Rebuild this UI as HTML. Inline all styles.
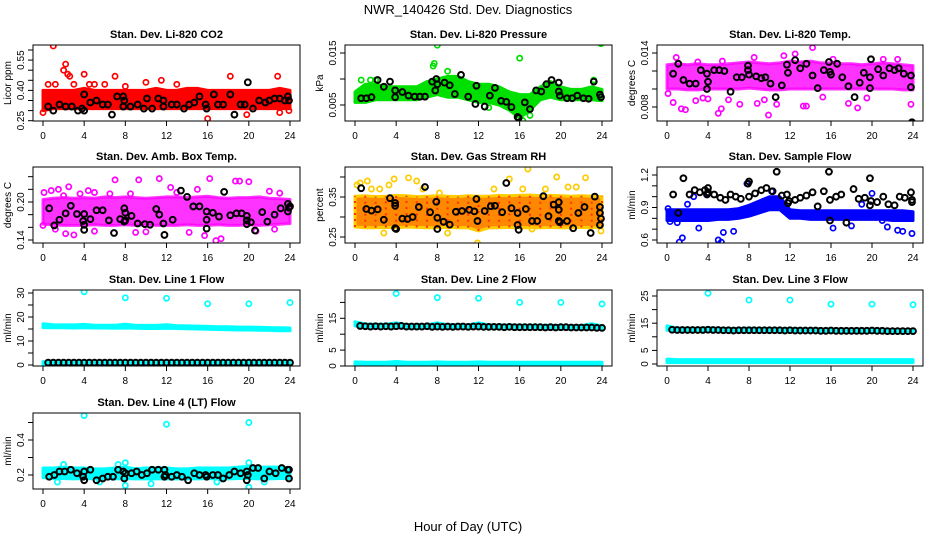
<!DOCTYPE html>
<html><head><meta charset="utf-8"><style>
html,body{margin:0;padding:0;background:#fff;}
svg{display:block;font-family:"Liberation Sans",Arial,sans-serif;}
</style></head><body>
<svg id="chart" width="936" height="540" viewBox="0 0 936 540">
<text x="468" y="14" text-anchor="middle" font-size="13">NWR_140426  Std. Dev. Diagnostics</text>
<text x="468" y="531" text-anchor="middle" font-size="13">Hour of Day (UTC)</text>
</svg>
<script>
// ---- data ----
const envHours=[0,1,2,3,4,5,6,7,8,9,10,11,12,13,14,15,16,17,18,19,20,21,22,23,24];
const lineHours=[0.5,1,1.5,2,2.5,3,3.5,4,4.5,5,5.5,6,6.5,7,7.5,8,8.5,9,9.5,10,10.5,11,11.5,12,12.5,13,13.5,14,14.5,15,15.5,16,16.5,17,17.5,18,18.5,19,19.5,20,20.5,21,21.5,22,22.5,23,23.5,24];

// P1 CO2
const co2Low=[0.30,0.31,0.31,0.31,0.31,0.31,0.31,0.31,0.31,0.31,0.31,0.31,0.31,0.31,0.31,0.31,0.31,0.31,0.31,0.31,0.31,0.31,0.31,0.31,0.31];
const co2High=[0.40,0.40,0.40,0.40,0.41,0.40,0.40,0.40,0.40,0.40,0.40,0.41,0.40,0.40,0.41,0.41,0.40,0.40,0.40,0.40,0.40,0.40,0.40,0.41,0.40];
const co2OutH=[0.0,0.5,1.0,1.2,2.0,2.2,2.4,2.6,3.0,4.0,4.5,5.0,6.0,7.0,8.0,10,11.5,13,16,18.2,19.8,22.8,23.9,23.0];
const co2OutV=[0.29,0.43,0.62,0.43,0.50,0.53,0.48,0.47,0.43,0.48,0.43,0.43,0.43,0.47,0.42,0.44,0.45,0.43,0.26,0.47,0.28,0.47,0.30,0.29];
const co2BlkH=[0.5,1.0,1.6,2.2,2.8,3.4,3.8,4.0,4.0,4.6,5.2,5.8,6.3,6.7,7.2,7.8,7.8,7.9,8.5,9.2,9.8,10.1,10.6,11.2,11.7,11.7,12.5,13.0,13.7,14.2,14.7,15.2,15.8,15.9,16.6,17.0,17.5,18.2,18.6,19.2,19.6,19.9,20.4,21.0,21.6,22.0,22.5,23.0,23.5,23.8,23.9];
const co2BlkV=[0.32,0.30,0.33,0.32,0.32,0.30,0.31,0.38,0.30,0.34,0.35,0.33,0.33,0.28,0.37,0.37,0.32,0.35,0.32,0.33,0.31,0.36,0.31,0.36,0.32,0.35,0.33,0.33,0.31,0.33,0.34,0.37,0.33,0.31,0.38,0.33,0.33,0.38,0.28,0.33,0.33,0.44,0.31,0.35,0.34,0.35,0.36,0.36,0.35,0.37,0.35];

// P2 Pressure
const prLow=[0.0055,0.0055,0.006,0.006,0.006,0.006,0.006,0.0065,0.007,0.0065,0.0065,0.006,0.0055,0.0055,0.005,0.004,0.0025,0.004,0.006,0.0065,0.006,0.006,0.006,0.006,0.0058];
const prHigh=[0.0075,0.009,0.009,0.0085,0.0085,0.0085,0.0085,0.0095,0.010,0.0105,0.0105,0.0095,0.009,0.009,0.0085,0.0075,0.007,0.007,0.0085,0.0095,0.0085,0.008,0.008,0.0085,0.008];
const prOutH=[7.6,7.7,8.0,9.0,16.0,23.9,0.6,1.5,13.0,16.3,17.0,2.0,23.2];
const prOutV=[0.0125,0.013,0.0165,0.0115,0.014,0.0168,0.0098,0.0098,0.0045,0.002,0.003,0.0098,0.0098];
const prBlkH=[0.6,1.1,1.6,2.2,2.8,3.4,3.9,3.9,4.6,5.2,5.8,6.3,6.8,7.5,7.8,7.9,8.0,8.7,9.2,9.7,10.3,11.0,11.7,11.8,12.6,13.1,13.6,14.2,14.7,15.2,15.8,15.9,16.5,17.0,17.6,18.1,18.6,19.1,19.8,19.8,19.9,20.6,21.1,21.6,22.2,22.7,23.2,23.8,23.9];
const prBlkV=[0.0063,0.0063,0.0065,0.0098,0.0085,0.0095,0.0065,0.0078,0.0075,0.0068,0.0066,0.0066,0.0066,0.0095,0.0078,0.010,0.009,0.0093,0.0088,0.0071,0.0108,0.0066,0.0052,0.0087,0.0047,0.0068,0.0083,0.0058,0.0056,0.0046,0.0027,0.0025,0.0055,0.0042,0.0078,0.0076,0.009,0.0098,0.0093,0.0076,0.0068,0.0063,0.0063,0.0068,0.0063,0.0062,0.0095,0.007,0.0065];

// P3 Li-820 Temp
const tLow=[0.0100,0.0100,0.0099,0.0099,0.0100,0.0100,0.0100,0.0100,0.0101,0.0100,0.0099,0.0099,0.0100,0.0100,0.0100,0.0100,0.0100,0.0100,0.0100,0.0100,0.0100,0.0100,0.0100,0.0099,0.0099];
const tHigh=[0.0127,0.0128,0.0127,0.0128,0.0127,0.0127,0.0128,0.0129,0.0130,0.0129,0.0128,0.0129,0.0131,0.0130,0.0131,0.0129,0.0129,0.0128,0.0128,0.0127,0.0128,0.0129,0.0128,0.0127,0.0126];
const tOutH=[0.1,0.6,0.9,1.4,1.8,2.8,3.0,5.0,5.3,5.4,7.1,8.5,8.8,9.9,10.7,11.4,12.5,13.3,13.6,14.2,15.2,16.2,17.7,18.6,21.1,22.5,23.8,6.0,4.0,3.5,9.5,19.5];
const tOutV=[0.0095,0.0085,0.0135,0.0078,0.0077,0.0087,0.013,0.0073,0.0078,0.0131,0.0083,0.0135,0.0084,0.0071,0.0083,0.0137,0.0139,0.0081,0.0081,0.0146,0.0091,0.0133,0.0084,0.0079,0.0133,0.0133,0.0083,0.0088,0.0089,0.0090,0.0088,0.0090];
const tBlkH=[0.6,1.1,1.6,2.2,2.8,3.3,3.9,3.9,4.0,4.6,5.1,5.6,6.2,6.8,7.3,7.9,7.9,8.0,8.7,9.2,9.6,10.1,10.6,11.2,11.7,11.8,12.5,13.0,13.6,14.2,14.7,15.3,15.8,15.9,16.0,16.6,17.1,17.7,18.3,18.8,19.2,19.8,19.8,19.9,20.6,21.1,21.7,22.2,22.6,23.1,23.8,23.8,23.9];
const tBlkV=[0.0117,0.0128,0.0110,0.0106,0.0106,0.0121,0.0117,0.0100,0.0108,0.0121,0.0121,0.0120,0.0097,0.0113,0.0113,0.0126,0.0121,0.0116,0.0114,0.0112,0.0113,0.0106,0.0091,0.0104,0.0127,0.0118,0.0132,0.0123,0.0128,0.0115,0.0101,0.0121,0.0130,0.0119,0.0116,0.0128,0.0113,0.0103,0.0091,0.0107,0.0118,0.0113,0.0101,0.0133,0.0122,0.0115,0.0123,0.0121,0.0123,0.0117,0.0102,0.0115,0.0063];

// P4 Amb Box Temp
const abLow=[0.165,0.164,0.163,0.163,0.163,0.164,0.163,0.163,0.164,0.163,0.164,0.163,0.163,0.163,0.164,0.163,0.163,0.164,0.163,0.163,0.164,0.163,0.164,0.165,0.166];
const abHigh=[0.204,0.206,0.207,0.206,0.207,0.206,0.208,0.207,0.208,0.207,0.206,0.207,0.208,0.208,0.207,0.208,0.209,0.207,0.206,0.207,0.207,0.208,0.206,0.205,0.204];
const abOutH=[0.0,0.1,0.8,1.2,2.0,2.5,2.2,3.0,3.6,5.0,5.0,6.5,7.0,8.5,9.3,10.0,11.3,12.4,13.0,15.0,15.7,16.2,16.8,17.3,18.7,19.1,20.0,20.7,22.0,22.5,23.0,14.2,9.0,1.5,4.4];
const abOutV=[0.163,0.215,0.218,0.157,0.21,0.224,0.15,0.148,0.213,0.215,0.154,0.213,0.235,0.213,0.235,0.153,0.237,0.223,0.215,0.22,0.147,0.237,0.139,0.142,0.233,0.233,0.232,0.154,0.217,0.157,0.214,0.152,0.152,0.22,0.218];
const abBlkH=[0.6,1.1,1.6,2.2,2.7,3.3,3.9,4.0,4.0,4.0,4.6,5.2,5.8,6.4,6.9,7.5,7.9,7.9,8.0,8.0,8.6,9.2,9.9,10.4,11.0,11.3,11.7,11.8,12.6,13.4,14.0,14.6,15.2,15.9,15.9,15.9,16.5,17.1,17.6,18.2,18.8,19.3,19.8,19.8,19.8,20.2,20.6,21.3,21.8,22.5,23.1,23.8,23.9,24.0,23.8];
const abBlkV=[0.190,0.163,0.172,0.182,0.194,0.181,0.170,0.181,0.164,0.156,0.173,0.187,0.187,0.171,0.151,0.173,0.169,0.190,0.183,0.171,0.178,0.166,0.165,0.164,0.189,0.180,0.166,0.148,0.172,0.218,0.208,0.193,0.193,0.185,0.172,0.158,0.183,0.177,0.216,0.179,0.182,0.182,0.178,0.171,0.165,0.168,0.155,0.184,0.169,0.180,0.190,0.197,0.191,0.193,0.185];

// P5 Gas stream RH
const rhLow=[0.275,0.273,0.273,0.274,0.273,0.275,0.274,0.273,0.273,0.274,0.273,0.273,0.265,0.273,0.273,0.274,0.273,0.273,0.273,0.274,0.273,0.273,0.274,0.273,0.275];
const rhHigh=[0.352,0.353,0.351,0.352,0.354,0.353,0.351,0.352,0.353,0.352,0.351,0.353,0.352,0.352,0.354,0.353,0.354,0.355,0.353,0.354,0.353,0.352,0.353,0.352,0.351];
const rhOutH=[0.2,0.5,1.2,1.6,2.4,2.8,3.3,3.8,5.2,6.0,6.6,8.2,11.9,15.0,16.3,16.8,17.2,19.6,20.7,21.5,22.4,23.9,9.0,13.5,18.5];
const rhOutV=[0.38,0.385,0.39,0.37,0.37,0.26,0.38,0.395,0.398,0.39,0.37,0.36,0.235,0.395,0.37,0.42,0.27,0.40,0.375,0.375,0.398,0.265,0.26,0.37,0.37];
const rhBlkH=[0.6,1.1,1.6,2.2,2.8,3.4,3.9,3.9,3.9,4.0,4.6,5.1,5.6,6.2,6.8,7.3,7.9,8.0,8.0,8.6,9.2,9.8,10.4,11.1,11.6,11.8,11.9,12.6,13.2,13.6,14.3,14.7,15.2,15.8,15.8,15.9,16.6,17.2,17.7,18.3,18.8,19.3,19.8,19.8,19.8,19.9,20.6,21.2,21.7,22.3,22.9,23.3,23.8,23.8,23.9,23.8];
const rhBlkV=[0.372,0.32,0.316,0.319,0.293,0.347,0.335,0.328,0.272,0.270,0.296,0.295,0.30,0.325,0.375,0.312,0.338,0.298,0.27,0.288,0.281,0.313,0.315,0.318,0.314,0.345,0.29,0.315,0.327,0.328,0.312,0.385,0.322,0.31,0.28,0.268,0.32,0.29,0.29,0.352,0.302,0.331,0.337,0.318,0.29,0.287,0.29,0.272,0.31,0.325,0.26,0.351,0.325,0.31,0.296,0.28];

// P6 Sample flow
const sfLow=[0.78,0.78,0.78,0.78,0.78,0.79,0.79,0.80,0.82,0.85,0.88,0.88,0.80,0.80,0.79,0.79,0.79,0.79,0.79,0.79,0.79,0.79,0.78,0.78,0.78];
const sfHigh=[0.88,0.88,0.88,0.88,0.88,0.88,0.88,0.89,0.92,0.96,1.00,1.00,0.88,0.87,0.87,0.87,0.87,0.87,0.87,0.87,0.87,0.87,0.87,0.87,0.86];
const sfOutH=[0.1,0.3,1.2,1.5,2.6,3.1,4.0,5.0,5.3,5.5,6.5,7.8,10.2,9.2,16.2,18.0,19.0,20.0,21.5,22.5,23.0,23.9,21.0,1.0,2.0];
const sfOutV=[0.89,0.77,0.58,0.62,1.0,0.71,1.03,0.60,0.58,0.67,0.68,1.12,1.05,0.93,0.71,0.73,0.93,1.03,0.72,0.69,0.68,0.66,0.78,0.76,0.93];
const sfBlkH=[0.6,1.1,1.6,2.2,2.7,3.2,3.7,3.9,4.0,4.0,4.6,5.2,5.7,6.2,6.7,7.2,7.9,8.0,8.0,8.6,9.2,9.7,10.3,10.7,11.2,11.7,11.8,11.9,12.5,13.0,13.6,14.2,14.7,15.3,15.8,15.9,15.9,16.5,17.0,17.5,18.2,18.7,19.3,19.8,19.8,19.9,20.5,21.1,21.6,22.2,22.7,23.2,23.8,23.9,23.9];
const sfBlkV=[1.02,0.85,1.17,1.02,1.06,1.04,1.06,1.02,1.08,1.04,1.02,0.99,0.97,1.02,1.00,0.98,1.12,1.14,1.00,1.03,1.06,1.08,1.05,1.23,1.01,1.02,0.94,0.96,0.97,0.99,1.01,1.04,0.91,1.05,1.23,0.97,0.78,1.00,1.02,0.76,1.07,0.98,0.99,1.17,0.92,0.96,0.95,1.00,0.93,0.92,1.00,0.99,1.04,0.97,0.95];

// P7 Line 1
const l1Low=[15.6,15.5,15.5,15.4,15.5,15.4,15.4,15.3,15.4,15.3,15.2,15.2,15.3,15.2,15.1,15.0,14.9,14.8,14.7,14.6,14.6,14.5,14.4,14.3,14.3];
const l1High=[17.2,16.8,16.7,16.7,16.9,16.6,16.6,16.6,17.0,16.5,16.5,16.5,16.8,16.4,16.3,16.2,16.1,15.9,15.9,15.8,15.8,15.7,15.6,15.5,15.4];
const l1zLow=[0.3,0.3,0.3,0.3,0.3,0.3,0.3,0.3,0.3,0.3,0.3,0.3,0.3,0.3,0.3,0.3,0.3,0.3,0.3,0.3,0.3,0.3,0.3,0.3,0.3];
const l1zHigh=[1.4,1.3,1.3,1.3,1.3,1.3,1.3,1.3,1.3,1.3,1.3,1.3,1.3,1.3,1.3,1.3,1.3,1.3,1.3,1.3,1.3,1.3,1.3,1.3,1.3];
const l1OutH=[4,8,12,16,20,24];
const l1OutV=[30.5,28,27.8,25.5,25.5,26];
const l1BlkV=[1,1,1,1,1,1,1,1,1,1,1,1,1,1,1,1,1,1,1,1,1,1,1,1,1,1,1,1,1,1,1,1,1,1,1,1,1,1,1,1,1,1,1,1,1,1,1,1];

// P8 Line 2
const l2Low=[12.6,12.2,12.1,12.1,12.1,12.0,12.0,12.0,12.0,12.0,12.0,12.0,12.0,11.9,11.9,11.9,11.8,11.8,11.8,11.8,11.7,11.7,11.7,11.6,11.6];
const l2High=[13.9,13.2,13.1,13.1,13.6,13.0,13.0,13.0,13.6,13.0,13.0,12.9,13.6,12.9,12.9,12.9,12.8,12.8,12.8,12.8,12.7,12.7,12.7,13.3,12.6];
const l2zLow=[0.2,0.2,0.2,0.2,0.2,0.2,0.2,0.2,0.2,0.2,0.2,0.2,0.2,0.2,0.2,0.2,0.2,0.2,0.2,0.2,0.2,0.2,0.2,0.2,0.2];
const l2zHigh=[1.3,1.2,1.2,1.2,1.4,1.2,1.2,1.2,1.3,1.2,1.2,1.2,1.3,1.2,1.2,1.2,1.2,1.2,1.2,1.2,1.2,1.2,1.2,1.2,1.2];
const l2OutH=[4,8,12,16,20,24];
const l2OutV=[22.8,21.5,21.3,20.0,20.0,19.5];
const l2BlkV=[12.6,12.5,12.4,12.5,12.4,12.5,12.4,12.5,12.6,12.4,12.4,12.4,12.4,12.5,12.3,12.4,12.3,12.4,12.3,12.4,12.4,12.3,12.4,12.4,12.3,12.3,12.3,12.3,12.2,12.3,12.2,12.2,12.2,12.2,12.2,12.2,12.1,12.2,12.1,12.2,12.2,12.1,12.1,12.1,12.1,12.1,12.0,12.0];

// P9 Line 3
const l3Low=[12.4,12.2,12.1,12.1,12.1,12.0,12.0,12.0,12.0,12.0,12.0,12.0,12.0,11.9,11.9,11.9,11.8,11.8,11.8,11.8,11.7,11.7,11.7,11.6,11.6];
const l3High=[14.0,13.2,13.1,13.1,13.4,13.0,13.0,13.0,13.2,13.0,13.0,12.9,13.1,12.9,12.9,12.9,12.8,12.8,12.8,12.8,12.7,12.7,12.7,12.7,12.6];
const l3zLow=[0.5,0.5,0.5,0.5,0.5,0.5,0.5,0.5,0.5,0.5,0.5,0.5,0.5,0.5,0.5,0.5,0.5,0.5,0.5,0.5,0.5,0.5,0.5,0.5,0.5];
const l3zHigh=[1.8,1.6,1.6,1.6,1.6,1.6,1.6,1.6,1.6,1.6,1.6,1.6,1.6,1.6,1.6,1.6,1.6,1.6,1.6,1.6,1.6,1.6,1.6,1.6,1.6];
const l3OutH=[4,8,12,16,20,24];
const l3OutV=[26.0,23.5,23.5,22.0,22.0,21.8];
const l3BlkV=[12.6,12.5,12.5,12.5,12.5,12.5,12.5,12.6,12.5,12.5,12.4,12.4,12.3,12.4,12.4,12.4,12.4,12.4,12.4,12.4,12.4,12.4,12.3,12.4,12.3,12.3,12.3,12.3,12.3,12.2,12.2,12.3,12.2,12.2,12.2,12.2,12.2,12.2,12.2,12.3,12.2,12.2,12.1,12.1,12.1,12.1,12.1,12.1];

// P10 Line 4
const l4Low=[0.185,0.180,0.180,0.178,0.180,0.178,0.180,0.178,0.180,0.178,0.178,0.178,0.178,0.178,0.178,0.178,0.180,0.178,0.178,0.180,0.180,0.178,0.178,0.180,0.180];
const l4High=[0.240,0.240,0.245,0.240,0.240,0.235,0.235,0.240,0.245,0.235,0.240,0.240,0.240,0.235,0.235,0.240,0.240,0.240,0.240,0.245,0.250,0.245,0.245,0.245,0.240];
const l4OutH=[4,12,20,8,20,8,10.5,21.5,5.5,20,2.0,7.3,1.4,16.9];
const l4OutV=[0.54,0.49,0.50,0.14,0.13,0.27,0.15,0.16,0.16,0.27,0.26,0.26,0.16,0.16];
const l4BlkH=[0.6,1.1,1.6,2.1,2.7,3.3,3.9,4.0,4.0,4.6,5.2,5.8,6.3,6.8,7.3,7.8,7.9,8.0,8.6,9.1,9.6,10.1,10.6,11.2,11.8,11.8,11.9,12.5,13.0,13.5,14.1,14.7,15.2,15.8,15.9,16.5,17.0,17.5,18.1,18.6,19.2,19.8,19.8,19.9,20.4,20.9,21.5,22.0,22.6,23.2,23.8,23.9,23.9];
const l4BlkV=[0.19,0.20,0.22,0.22,0.23,0.21,0.19,0.17,0.22,0.23,0.17,0.18,0.19,0.19,0.23,0.22,0.18,0.21,0.21,0.22,0.20,0.21,0.23,0.23,0.23,0.19,0.20,0.19,0.20,0.19,0.17,0.21,0.20,0.20,0.19,0.20,0.20,0.18,0.20,0.22,0.21,0.22,0.17,0.20,0.24,0.24,0.18,0.22,0.21,0.24,0.23,0.18,0.23];

// ---- layout ----
const NS='http://www.w3.org/2000/svg';
const svg=document.getElementById('chart');
function mk(tag,attrs,parent){const e=document.createElementNS(NS,tag);for(const k in attrs)e.setAttribute(k,attrs[k]);(parent||svg).appendChild(e);return e;}
const cols=[{x0:43,x24:290},{x0:355,x24:602},{x0:667,x24:913}];
const rows=[{top:45,bot:121},{top:167,bot:243},{top:290,bot:366},{top:413,bot:489}];

const panels=[
 {name:'co2',title:'Stan. Dev. Li-820 CO2',ylab:'Licor ppm',c:0,r:0,a:[0.25,120.7,0.40,90.4],ticks:[0.25,0.30,0.35,0.40,0.45,0.50,0.55,0.60],labs:[0.25,0.40,0.55],dec:2,col:'#ff0000',op:1,bands:[[co2Low,co2High]],oh:co2OutH,ov:co2OutV,bh:co2BlkH,bv:co2BlkV},
 {name:'pressure',title:'Stan. Dev. Li-820 Pressure',ylab:'kPa',c:1,r:0,a:[0.005,105,0.015,53],ticks:[0.005,0.010,0.015],labs:[0.005,0.015],dec:3,col:'#00e000',op:1,bands:[[prLow,prHigh]],oh:prOutH,ov:prOutV,bh:prBlkH,bv:prBlkV},
 {name:'li820-temp',title:'Stan. Dev. Li-820 Temp.',ylab:'degrees C',c:2,r:0,a:[0.008,107,0.014,53],ticks:[0.008,0.010,0.012,0.014],labs:[0.008,0.014],dec:3,col:'#ff00ff',op:0.8,bands:[[tLow,tHigh]],oh:tOutH,ov:tOutV,bh:tBlkH,bv:tBlkV},
 {name:'amb-box-temp',title:'Stan. Dev. Amb. Box Temp.',ylab:'degrees C',c:0,r:1,a:[0.14,240,0.20,202],ticks:[0.14,0.16,0.18,0.20,0.22,0.24],labs:[0.14,0.20],dec:2,col:'#ff00ff',op:0.8,bands:[[abLow,abHigh]],oh:abOutH,ov:abOutV,bh:abBlkH,bv:abBlkV},
 {name:'gas-stream-rh',title:'Stan. Dev. Gas Stream RH',ylab:'percent',c:1,r:1,a:[0.25,237,0.35,197],ticks:[0.25,0.30,0.35,0.40],labs:[0.25,0.35],dec:2,col:'#ffcc00',inner:'#ff8800',op:1,bands:[[rhLow,rhHigh]],oh:rhOutH,ov:rhOutV,bh:rhBlkH,bv:rhBlkV},
 {name:'sample-flow',title:'Stan. Dev. Sample Flow',ylab:'ml/min',c:2,r:1,a:[0.6,240,1.2,175],ticks:[0.6,0.7,0.8,0.9,1.0,1.1,1.2],labs:[0.6,0.9,1.2],dec:1,col:'#0000ff',op:1,bands:[[sfLow,sfHigh]],oh:sfOutH,ov:sfOutV,bh:sfBlkH,bv:sfBlkV},
 {name:'line1-flow',title:'Stan. Dev. Line 1 Flow',ylab:'ml/min',c:0,r:2,a:[0,365,30,293],ticks:[0,5,10,15,20,25,30],labs:[0,10,20,30],dec:0,col:'#00ffff',op:1,bands:[[l1Low,l1High],[l1zLow,l1zHigh]],oh:l1OutH,ov:l1OutV,bh:lineHours,bv:l1BlkV},
 {name:'line2-flow',title:'Stan. Dev. Line 2 Flow',ylab:'ml/min',c:1,r:2,a:[0,366,15,318.3],ticks:[0,5,10,15,20],labs:[0,5,15],dec:0,col:'#00ffff',op:1,bands:[[l2Low,l2High],[l2zLow,l2zHigh]],oh:l2OutH,ov:l2OutV,bh:lineHours,bv:l2BlkV},
 {name:'line3-flow',title:'Stan. Dev. Line 3 Flow',ylab:'ml/min',c:2,r:2,a:[0,364,25,296],ticks:[0,5,10,15,20,25],labs:[0,5,15,25],dec:0,col:'#00ffff',op:1,bands:[[l3Low,l3High],[l3zLow,l3zHigh]],oh:l3OutH,ov:l3OutV,bh:lineHours,bv:l3BlkV},
 {name:'line4-flow',title:'Stan. Dev. Line 4 (LT) Flow',ylab:'ml/min',c:0,r:3,a:[0.2,475,0.4,440],ticks:[0.2,0.3,0.4,0.5],labs:[0.2,0.4],dec:1,col:'#00ffff',op:1,bands:[[l4Low,l4High]],oh:l4OutH,ov:l4OutV,bh:l4BlkH,bv:l4BlkV}
];

panels.forEach(p=>{
 const C=cols[p.c],R=rows[p.r];
 const L=C.x0-10,Rt=C.x24+10;
 const X=h=>C.x0+(C.x24-C.x0)*h/24;
 const Y=v=>p.a[1]+(v-p.a[0])*(p.a[3]-p.a[1])/(p.a[2]-p.a[0]);
 const g=mk('g',{});
 
 
 const cid='clip-'+p.name;
 const cp=mk('clipPath',{id:cid},g);
 mk('rect',{x:L,y:R.top,width:Rt-L,height:R.bot-R.top},cp);
 const plot=mk('g',{'clip-path':'url(#'+cid+')'},g);
 p.bands.forEach((b,bi)=>{
  let d='';
  envHours.forEach((h,i)=>{d+=(i?'L':'M')+X(h).toFixed(1)+' '+Y(b[1][i]).toFixed(1);});
  for(let i=envHours.length-1;i>=0;i--)d+='L'+X(envHours[i]).toFixed(1)+' '+Y(b[0][i]).toFixed(1);
  d+='Z';
  const band=mk('path',{d:d,fill:p.inner||p.col,stroke:p.col,'stroke-width':3,'stroke-linejoin':'round','fill-opacity':p.op,'stroke-opacity':p.op},plot);
  
  
 });
 if(p.inner){
  envHours.forEach((h,i)=>{
   const sp=mk('line',{x1:X(h),x2:X(h),y1:Y(p.bands[0][0][i]),y2:Y(p.bands[0][1][i]),stroke:'#ff3300','stroke-width':2,'stroke-dasharray':'2 4'},plot);
   
   
  });
 }
 p.oh.forEach((h,i)=>{
  const pt=mk('circle',{cx:X(h),cy:Y(p.ov[i]),r:2.6,fill:'none',stroke:p.col,'stroke-width':1.7},plot);
  
  
 });
 p.bh.forEach((h,i)=>{
  const pt=mk('circle',{cx:X(h),cy:Y(p.bv[i]),r:2.9,fill:'none',stroke:'#000','stroke-width':2},plot);
  
  
 });
 const box=mk('rect',{x:L,y:R.top,width:Rt-L,height:R.bot-R.top,fill:'none',stroke:'#000','stroke-width':1},g);
 
 
 const t=mk('text',{x:(L+Rt)/2,y:R.top-7,'text-anchor':'middle','font-size':11,'font-weight':'bold'},g);
 t.textContent=p.title;
 
 
 [0,4,8,12,16,20,24].forEach(h=>{
  mk('line',{x1:X(h),x2:X(h),y1:R.bot,y2:R.bot+5,stroke:'#000'},g);
  const tl=mk('text',{x:X(h),y:R.bot+18,'text-anchor':'middle','font-size':10},g);
  tl.textContent=h;
  
  
 });
 p.ticks.forEach(v=>{
  const y=Y(v); if(y<R.top-1||y>R.bot+1) return;
  mk('line',{x1:L-5,x2:L,y1:y,y2:y,stroke:'#000'},g);
 });
 p.labs.forEach(v=>{
  const y=Y(v),x=L-9;
  const tl=mk('text',{x:x,y:y,'text-anchor':'middle','font-size':10,transform:'rotate(-90 '+x+' '+y+')'},g);
  tl.textContent=v.toFixed(p.dec);
  
  
 });
 const yx=L-22,yy=(R.top+R.bot)/2;
 const yl=mk('text',{x:yx,y:yy,'text-anchor':'middle','font-size':10,transform:'rotate(-90 '+yx+' '+yy+')'},g);
 yl.textContent=p.ylab;
 
 
});
</script>
</body></html>
